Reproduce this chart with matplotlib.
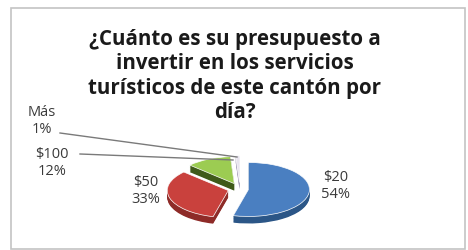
import numpy as np
import matplotlib
matplotlib.use("Agg")
import matplotlib.pyplot as plt
from matplotlib.patches import Rectangle
from matplotlib.lines import Line2D

# survey answers (share of respondents)
categories = ["$20", "$50", "$100", "Más"]
values = [54, 33, 12, 1]
explode = [0.14, 0.2, 0.22, 0.24]
top_colors = ["#4a7fc1", "#c9413d", "#9ccc52", "#e8e4ef"]
side_colors = ["#2b5687", "#8e2b28", "#3f5a1a", "#b0a8c0"]
title = "¿Cuánto es su presupuesto a\ninvertir en los servicios\nturísticos de este cantón por\ndía?"

W, H = 468, 250
fig = plt.figure(figsize=(W / 100, H / 100), dpi=100)
fig.patch.set_facecolor("white")


def fx(px):
    return px / W


def fy(py):
    return 1 - py / H


# chart frame
fig.add_artist(Rectangle((fx(11), fy(249)), fx(454), (249 - 8) / H,
                         transform=fig.transFigure, fill=False,
                         edgecolor="#c4c4c4", lw=1.2))

fig.text(fx(235), fy(76), title, ha="center", va="center", fontsize=14.8,
         fontweight="bold", family="Open Sans", color="#1a1a1a", linespacing=1.22)

# pie axes: flattened so the disc reads as a tilted 3D pie
cx, cy, rx, ry = 240, 189, 61, 27
ax = fig.add_axes([fx(cx - 1.25 * rx), fy(cy + 1.25 * ry), 2.5 * rx / W, 2.5 * ry / H])
thick = 0.26
for d in np.linspace(thick, 0.02, 10):
    ax.pie(values, explode=explode, colors=side_colors, startangle=90,
           counterclock=False, center=(0, -d), wedgeprops=dict(lw=0))
ax.pie(values, explode=explode, colors=top_colors, startangle=90,
       counterclock=False, wedgeprops=dict(lw=0.5, edgecolor="white"))
ax.set_aspect("auto")
ax.set_xlim(-1.25, 1.25)
ax.set_ylim(-1.25, 1.25)
ax.axis("off")

# data labels
pos = {"$20": (336, 186), "$50": (146, 191), "$100": (52, 163), "Más": (42, 121)}
for c, v in zip(categories, values):
    x, y = pos[c]
    fig.text(fx(x), fy(y), f"{c}\n{v}%", ha="center", va="center", fontsize=10.5,
             family="Open Sans", color="#3a3a3a", linespacing=1.2, parse_math=False)

# leader lines for the small slices
for (x0, y0), (x1, y1) in [((60, 133), (237, 157)), ((80, 154), (233, 160))]:
    fig.add_artist(Line2D([fx(x0), fx(x1)], [fy(y0), fy(y1)], transform=fig.transFigure,
                          color="#7a7a7a", lw=1))

fig.savefig("out.png", dpi=100)
